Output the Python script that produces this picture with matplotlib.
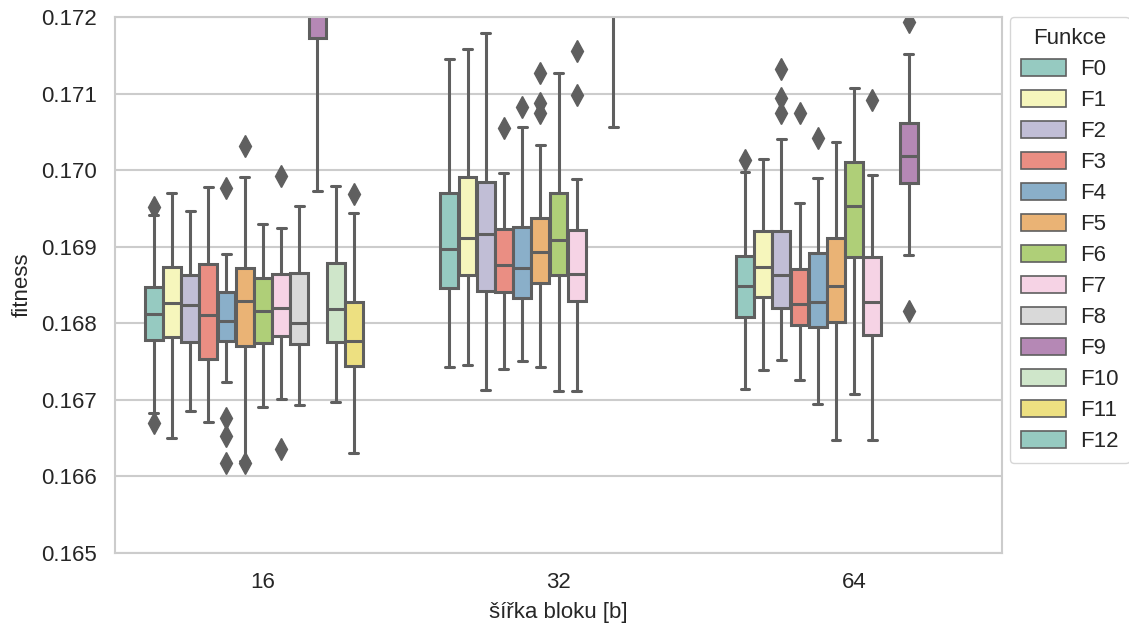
import colorsys
import matplotlib
matplotlib.use("Agg")
import matplotlib.pyplot as plt
import matplotlib.patches as mpatches
import seaborn as sns

# ---------------- data ----------------
block_widths = ["16", "32", "64"]
functions = ["F0", "F1", "F2", "F3", "F4", "F5", "F6", "F7", "F8", "F9", "F10", "F11", "F12"]

# per block width: one value per function (None = function not present)
q1 = {
    "16": [0.167783, 0.167827, 0.167757, 0.167531, 0.167770, 0.167709, 0.167748, 0.167836, 0.167727, 0.171730, 0.167757, 0.167444, None],
    "32": [0.168458, 0.168632, 0.168427, 0.168406, 0.168328, 0.168532, 0.168632, 0.168297, None, 0.173000, None, None, None],
    "64": [0.168088, 0.168345, 0.168197, 0.167979, 0.167953, 0.168022, 0.168871, 0.167849, None, 0.169829, None, None, None],
}
median = {
    "16": [0.168123, 0.168271, 0.168244, 0.168110, 0.168035, 0.168297, 0.168162, 0.168205, 0.168009, 0.172300, 0.168184, 0.167770, None],
    "32": [0.168975, 0.169111, 0.169163, 0.168762, 0.168727, 0.168928, 0.169089, 0.168645, None, 0.173500, None, None, None],
    "64": [0.168488, 0.168741, 0.168632, 0.168249, 0.168275, 0.168488, 0.169537, 0.168275, None, 0.170185, None, None, None],
}
q3 = {
    "16": [0.168471, 0.168741, 0.168632, 0.168771, 0.168414, 0.168719, 0.168589, 0.168645, 0.168662, 0.172600, 0.168785, 0.168284, None],
    "32": [0.169698, 0.169907, 0.169850, 0.169228, 0.169262, 0.169372, 0.169706, 0.169219, None, 0.174000, None, None, None],
    "64": [0.168884, 0.169211, 0.169211, 0.168715, 0.168915, 0.169119, 0.170103, 0.168871, None, 0.170612, None, None, None],
}
whisker_low = {
    "16": [0.166830, 0.166504, 0.166852, 0.166717, 0.167235, 0.166200, 0.166904, 0.167009, 0.166931, 0.169733, 0.166974, 0.166304, None],
    "32": [0.167431, 0.167461, 0.167131, 0.167401, 0.167509, 0.167431, 0.167113, 0.167113, None, 0.170568, None, None, None],
    "64": [0.167144, 0.167388, 0.167522, 0.167265, 0.166944, 0.166474, 0.167082, 0.166474, None, 0.168893, None, None, None],
}
whisker_high = {
    "16": [0.169415, 0.169706, 0.169471, 0.169777, 0.168906, 0.169915, 0.169294, 0.169241, 0.169533, 0.173500, 0.169794, 0.169446, None],
    "32": [0.171456, 0.171578, 0.171787, 0.169960, 0.170568, 0.170325, 0.171273, 0.169885, None, 0.175000, None, None, None],
    "64": [0.169977, 0.170142, 0.170403, 0.169568, 0.169902, 0.170372, 0.171069, 0.169937, None, 0.171517, None, None, None],
}
outliers = {
    "16": [[0.169520, 0.166700], [], [], [], [0.169764, 0.166769, 0.166530, 0.166173],
           [0.170320, 0.166170], [], [0.169928, 0.166356], [], [], [], [0.169685], []],
    "32": [[], [], [], [0.170547], [0.170829], [0.171273, 0.170873, 0.170743], [],
           [0.171560, 0.170982], [], [], [], [], []],
    "64": [[0.170133], [], [0.171317, 0.170947, 0.170743], [0.170751], [0.170424], [], [],
           [0.170916], [], [0.171940, 0.168166], [], [], []],
}

# ---------------- style ----------------
sns.set_theme(style="whitegrid")
plt.rcParams["font.family"] = ["Liberation Sans", "DejaVu Sans"]

palette = sns.color_palette("Set3", len(functions), desat=0.75)
lum = min(colorsys.rgb_to_hls(*c)[1] for c in palette) * 0.6
gray = (lum, lum, lum)

fig = plt.figure(figsize=(11.29, 6.26), dpi=100)
ax = fig.add_axes([0.1019, 0.1166, 0.7856, 0.8562])

n_hue = len(functions)
each_width = 0.8 / n_hue
box_w = each_width * 0.98
lw = 2.2

for gi, g in enumerate(block_widths):
    for hi, f in enumerate(functions):
        if median[g][hi] is None:
            continue
        pos = gi - 0.4 + each_width * (hi + 0.5)
        stats = [dict(med=median[g][hi], q1=q1[g][hi], q3=q3[g][hi],
                      whislo=whisker_low[g][hi], whishi=whisker_high[g][hi],
                      fliers=outliers[g][hi])]
        ax.bxp(stats, positions=[pos], widths=box_w, patch_artist=True,
               showfliers=True, manage_ticks=False,
               boxprops=dict(facecolor=palette[hi], edgecolor=gray, linewidth=lw),
               medianprops=dict(color=gray, linewidth=lw),
               whiskerprops=dict(color=gray, linewidth=lw),
               capprops=dict(color=gray, linewidth=lw),
               flierprops=dict(marker="d", markerfacecolor=gray, markeredgecolor=gray,
                               markersize=11, linestyle="none"))

ax.set_xlim(-0.5, len(block_widths) - 0.5)
ax.set_ylim(0.165, 0.172)
ax.set_xticks(range(len(block_widths)))
ax.set_xticklabels(block_widths)
ax.set_yticks([0.165, 0.166, 0.167, 0.168, 0.169, 0.170, 0.171, 0.172])
ax.set_yticklabels(["0.165", "0.166", "0.167", "0.168", "0.169", "0.170", "0.171", "0.172"])
ax.xaxis.grid(False)
ax.yaxis.grid(True, color="#cccccc", linewidth=1.5)
ax.set_axisbelow(True)
for s in ax.spines.values():
    s.set_color("#cccccc")
    s.set_linewidth(1.5)
ax.tick_params(axis="both", labelsize=16, colors="#262626", length=0)
ax.tick_params(axis="y", pad=13)
ax.tick_params(axis="x", pad=14)
ax.set_xlabel("šířka bloku [b]", fontsize=16, color="#262626", labelpad=6)
ax.set_ylabel("fitness", fontsize=16, color="#262626", labelpad=6)

handles = [mpatches.Patch(facecolor=palette[i], edgecolor=gray, linewidth=1.2, label=f)
           for i, f in enumerate(functions)]
leg = ax.legend(handles=handles, title="Funkce", loc="upper left",
                bbox_to_anchor=(1.009, 1.0), fontsize=16, title_fontsize=16,
                frameon=True, handlelength=2.0, handleheight=0.75,
                labelspacing=0.45, borderaxespad=0, borderpad=0.5,
                handletextpad=0.65)
leg.get_frame().set_edgecolor("#cccccc")

fig.savefig("out.png", dpi=100)
